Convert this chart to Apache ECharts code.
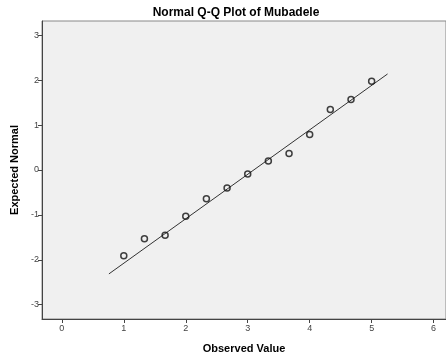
<!DOCTYPE html>
<html>
<head>
<meta charset="utf-8">
<script src="https://cdn.jsdelivr.net/npm/echarts@6/dist/echarts.min.js"></script>
<style>html,body{margin:0;padding:0;background:#fff;}#c{width:446px;height:361px;}</style>
</head>
<body>
<div id="c"></div>
<script>
const observed = [1, 1.333, 1.667, 2, 2.333, 2.667, 3, 3.333, 3.667, 4, 4.333, 4.667, 5];
const expected = [-1.91, -1.53, -1.455, -1.03, -0.64, -0.40, -0.09, 0.20, 0.37, 0.79, 1.35, 1.57, 1.98];
const lineX = [0.76, 5.257];
const lineY = [-2.315, 2.14];
const xTicks = [0, 1, 2, 3, 4, 5, 6];
const yTicks = [-3, -2, -1, 0, 1, 2, 3];

const chart = echarts.init(document.getElementById('c'), null, {renderer: 'canvas'});
const font = 'Arial, "Liberation Sans", sans-serif';
chart.setOption({
  animation: false,
  backgroundColor: '#ffffff',
  title: {
    text: 'Normal Q-Q Plot of Mubadele',
    left: 231, top: 2, textAlign: 'center',
    textStyle: {fontFamily: font, fontSize: 12, fontWeight: 'bold', color: '#000'}
  },
  grid: {
    left: 42, top: 21, right: 0, bottom: 42,
    show: true, backgroundColor: '#f0f0f0', borderColor: '#888', borderWidth: 1
  },
  xAxis: {
    type: 'value', min: -0.32, max: 6.2,
    name: 'Observed Value', nameLocation: 'middle', nameGap: 24,
    nameTextStyle: {fontFamily: font, fontSize: 11, fontWeight: 'bold', color: '#000'},
    splitLine: {show: false},
    axisLine: {show: true, onZero: false, lineStyle: {color: '#444', width: 1}},
    axisTick: {show: true, length: 4, customValues: xTicks, lineStyle: {color: '#444'}},
    axisLabel: {customValues: xTicks, fontFamily: font, fontSize: 9, color: '#444', margin: 5}
  },
  yAxis: {
    type: 'value', min: -3.32, max: 3.32,
    name: 'Expected Normal', nameLocation: 'middle', nameGap: 19, nameRotate: 90,
    nameTextStyle: {fontFamily: font, fontSize: 11, fontWeight: 'bold', color: '#000'},
    splitLine: {show: false},
    axisLine: {show: true, onZero: false, lineStyle: {color: '#444', width: 1}},
    axisTick: {show: true, length: 4, customValues: yTicks, lineStyle: {color: '#444'}},
    axisLabel: {customValues: yTicks, fontFamily: font, fontSize: 9, color: '#444', margin: 3}
  },
  series: [
    {
      type: 'line',
      data: lineX.map((x, i) => [x, lineY[i]]),
      symbol: 'none',
      lineStyle: {color: '#333', width: 1},
      z: 2
    },
    {
      type: 'scatter',
      data: observed.map((x, i) => [x, expected[i]]),
      symbol: 'circle', symbolSize: 6,
      itemStyle: {color: 'rgba(0,0,0,0)', borderColor: '#111', borderWidth: 1.5},
      z: 3
    }
  ]
});
</script>
</body>
</html>
